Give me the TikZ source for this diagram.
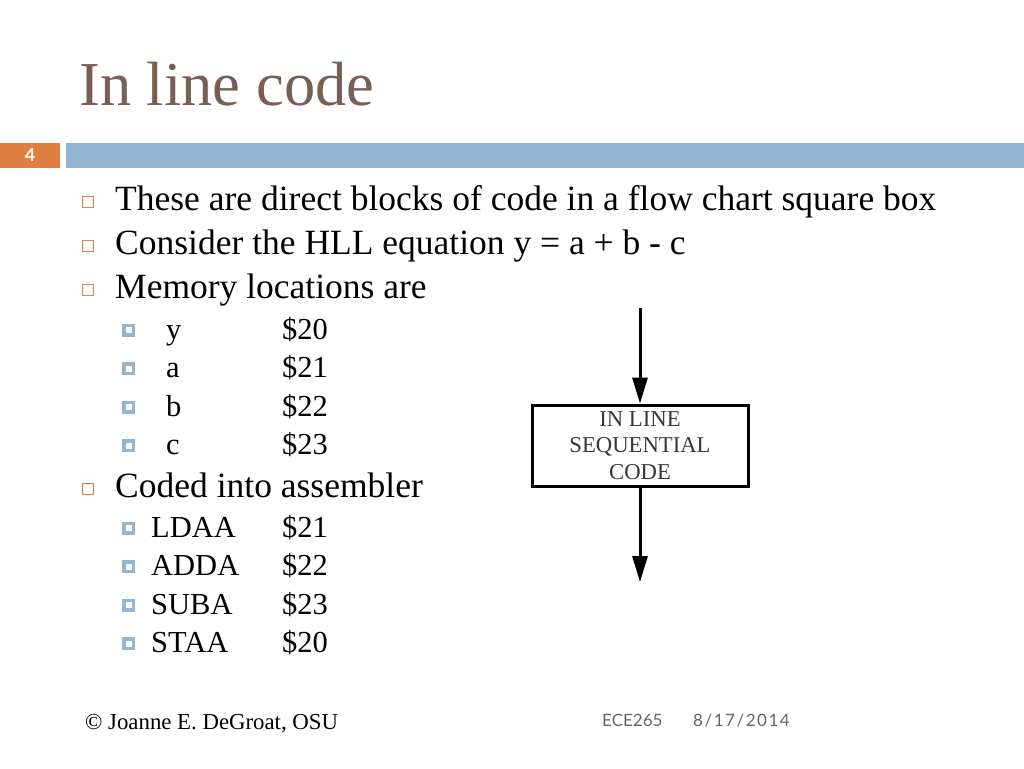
\documentclass[tikz,border=0pt]{standalone}
\usepackage{fontspec}
\setmainfont{Liberation Serif}
\newfontfamily\gillfont{Lato}
\usetikzlibrary{positioning,arrows.meta}
\definecolor{titlebrown}{RGB}{119,95,85}
\definecolor{barorange}{RGB}{223,128,66}
\definecolor{barblue}{RGB}{148,182,210}
\definecolor{footgray}{RGB}{110,98,92}
\definecolor{boxgray}{RGB}{55,55,55}

\begin{document}
\begin{tikzpicture}[x=1pt,y=-1pt]

\tikzstyle{lone}=[anchor=base west,inner sep=0pt,font=\fontsize{35.5}{40}\selectfont]
\tikzstyle{ltwo}=[anchor=base west,inner sep=0pt,font=\fontsize{30.5}{34}\selectfont]
\tikzstyle{bulone}=[rectangle,draw=barorange,line width=1.3pt,minimum size=10.5pt,inner sep=0pt]
\tikzstyle{bultwo}=[rectangle,fill=barblue,minimum size=13pt,inner sep=0pt,
  path picture={\fill[white] (path picture bounding box.center) ++(-3pt,-3pt) rectangle ++(6pt,6pt);}]
\tikzstyle{foot}=[anchor=base west,inner sep=0pt,font=\gillfont\fontsize{17}{20}\selectfont,text=footgray]
\tikzstyle{flow}=[line width=3pt,-{Triangle[length=26pt,width=15pt]}]

\useasboundingbox (0,0) rectangle (1024,768);

% title and bars
\node[anchor=base west,inner sep=0pt,text=titlebrown,font=\fontsize{62.5}{62}\selectfont] (title) at (79,105) {In line code};
\fill[barorange] (0,143) rectangle (60,168);
\fill[barblue] (66,143) rectangle (1024,168);
\node[anchor=base,inner sep=0pt,text=white,font=\gillfont\bfseries\fontsize{18}{18}\selectfont] (slideno) at (30,161) {4};

% first level
\node[bulone] (b1) at (88,202) {};
\node[lone] (t1) at (115,210) {These are direct blocks of code in a flow chart square box};
\node[bulone] (b2) at (88,246) {};
\node[lone] (t2) at (115,254) {Consider the HLL equation y = a + b - c};
\node[bulone] (b3) at (88,290) {};
\node[lone] (t3) at (115,298) {Memory locations are};

% memory map
\node[bultwo] (m1) at (128.5,330) {};
\node[ltwo] (my) at (166,339) {y};
\node[ltwo] (my2) at (282,339) {\$20};
\node[bultwo] (m2) at (128.5,368.5) {};
\node[ltwo] (ma) at (166,377.5) {a};
\node[ltwo] (ma2) at (282,377.5) {\$21};
\node[bultwo] (m3) at (128.5,407) {};
\node[ltwo] (mb) at (166,416) {b};
\node[ltwo] (mb2) at (282,416) {\$22};
\node[bultwo] (m4) at (128.5,445.5) {};
\node[ltwo] (mc) at (166,454.5) {c};
\node[ltwo] (mc2) at (282,454.5) {\$23};

\node[bulone] (b4) at (88,489) {};
\node[lone] (t4) at (115,497) {Coded into assembler};

% assembler
\node[bultwo] (c1) at (128.5,528) {};
\node[ltwo] (cl) at (151,537) {LDAA};
\node[ltwo] (cl2) at (282,537) {\$21};
\node[bultwo] (c2) at (128.5,566.5) {};
\node[ltwo] (cd) at (151,575.5) {ADDA};
\node[ltwo] (cd2) at (282,575.5) {\$22};
\node[bultwo] (c3) at (128.5,605) {};
\node[ltwo] (cs) at (151,614) {SUBA};
\node[ltwo] (cs2) at (282,614) {\$23};
\node[bultwo] (c4) at (128.5,643.5) {};
\node[ltwo] (ct) at (151,652.5) {STAA};
\node[ltwo] (ct2) at (282,652.5) {\$20};

% flow chart block
\node[draw,line width=3pt,minimum width=216pt,minimum height=81pt,inner sep=0pt,align=center,
  text=boxgray,font=\fontsize{22.7}{26.5}\selectfont] (block) at (640,445.5) {IN LINE\\SEQUENTIAL\\CODE};
\coordinate (entry) at (640,308);
\coordinate (exit) at (640,582);
\draw[flow] (entry) -- (block.north);
\draw[flow] (block.south) -- (exit);

% footer
\node[anchor=base west,inner sep=0pt,font=\fontsize{22.8}{24}\selectfont] (author) at (85,729.5) {© Joanne E. DeGroat, OSU};
\node[foot] (course) at (602,726) {ECE265};
\node[foot,font=\gillfont\fontsize{17}{20}\selectfont\addfontfeature{LetterSpace=9}] (date) at (693,726) {8/17/2014};

\end{tikzpicture}
\end{document}
